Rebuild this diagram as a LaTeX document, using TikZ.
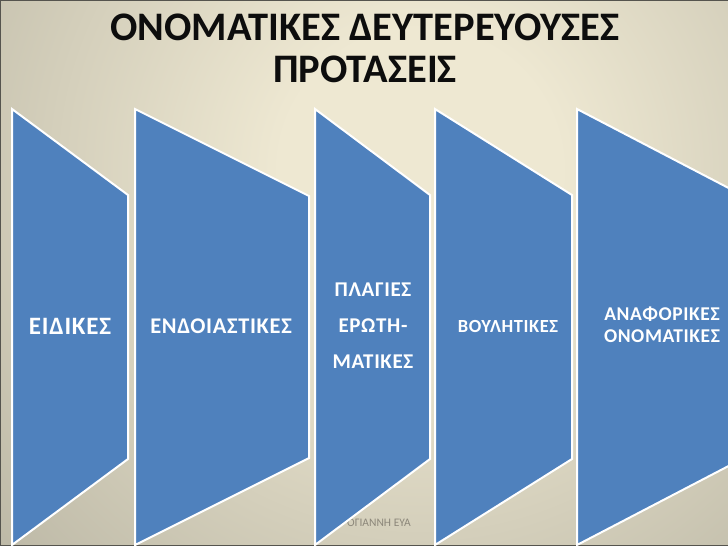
\documentclass[tikz,border=0pt]{standalone}
\usepackage{fontspec}
\setmainfont{Carlito}
\definecolor{bgin}{HTML}{EEE8D2}
\definecolor{bgout}{HTML}{878577}
\definecolor{chevblue}{RGB}{79,129,189}
\definecolor{framegray}{HTML}{55544E}
\definecolor{footgray}{HTML}{8C877A}
\pgfdeclareradialshading{bgshade}{\pgfpoint{0bp}{0bp}}{color(0bp)=(bgin); color(5bp)=(bgin); color(37bp)=(bgout); color(50bp)=(bgout)}
\newcommand{\lblsize}[2]{\bfseries\addfontfeature{LetterSpace=3}\fontsize{#1}{#2}\selectfont}
\begin{document}
\begin{tikzpicture}[x=1pt,y=-1pt,
  chev/.style={fill=chevblue, draw=white, line width=2pt, line join=miter},
  lbl/.style={text=white, align=center, inner sep=0pt},
  ttl/.style={text=black!95, font=\bfseries\fontsize{40.5}{44}\selectfont, inner sep=0pt, anchor=base},
  foot/.style={text=footgray, font=\fontsize{11.5}{14}\selectfont, inner sep=0pt, anchor=base east}]
\useasboundingbox (0,0) rectangle (728,546);
\begin{scope}
\clip (0,0) rectangle (728,546);
\fill[bgout] (0,0) rectangle (728,546);
\shade[shading=bgshade] (420,170) circle [radius=700];
\draw[framegray, line width=2pt] (0,546) -- (0,0) -- (728,0);
\draw[framegray, line width=1.5pt] (0,546) -- (728,546);
% footer (partly hidden behind the third shape)
\node[foot] (footer) at (411,526) {ΟΓΙΑΝΝΗ ΕΥΑ};
% chevrons
\draw[chev] (12,109) -- (128,195) -- (128,459) -- (12,545) -- cycle;
\draw[chev] (135,109) -- (309,196) -- (309,458) -- (135,545) -- cycle;
\draw[chev] (315,109) -- (430,195) -- (430,459) -- (315,545) -- cycle;
\draw[chev] (435,109) -- (572,195) -- (572,459) -- (435,545) -- cycle;
\draw[chev] (577,109) -- (742,195) -- (742,459) -- (577,545) -- cycle;
\end{scope}
% title
\node[ttl] (t1) at (365,40) {ΟΝΟΜΑΤΙΚΕΣ ΔΕΥΤΕΡΕΥΟΥΣΕΣ};
\node[ttl] (t2) at (365,82) {ΠΡΟΤΑΣΕΙΣ};
% labels
\node[lbl, font=\lblsize{25}{30}] (l1) at (70,326) {ΕΙΔΙΚΕΣ};
\node[lbl, font=\lblsize{22.4}{27}] (l2) at (221,326) {ΕΝΔΟΙΑΣΤΙΚΕΣ};
\node[lbl, font=\lblsize{21}{36}] (l3) at (373,326) {ΠΛΑΓΙΕΣ\\ΕΡΩΤΗ-\\ΜΑΤΙΚΕΣ};
\node[lbl, font=\lblsize{18.5}{22}] (l4) at (508,326) {ΒΟΥΛΗΤΙΚΕΣ};
\node[lbl, font=\lblsize{19.5}{22}] (l5) at (662,325) {ΑΝΑΦΟΡΙΚΕΣ\\ΟΝΟΜΑΤΙΚΕΣ};
\end{tikzpicture}
\end{document}
